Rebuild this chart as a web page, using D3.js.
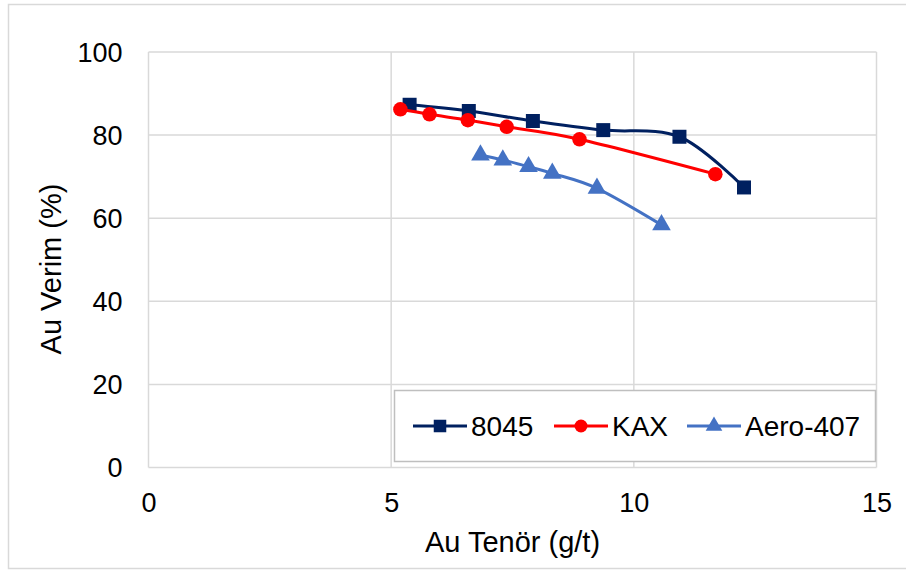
<!DOCTYPE html>
<html>
<head>
<meta charset="utf-8">
<script src="https://cdn.jsdelivr.net/npm/d3@7"></script>
<style>
  html, body { margin: 0; padding: 0; background: #fff; }
  svg text { font-family: "Liberation Sans", Arial, sans-serif; fill: #000; }
</style>
</head>
<body>
<svg id="chart" width="906" height="572"></svg>
<script>
// Au Tenör (g/t) vs Au Verim (%) for three collectors
const seriesNames = ["8045", "KAX", "Aero-407"];
const grade8045 = [5.38, 6.60, 7.92, 9.37, 10.94, 12.27];
const recov8045 = [87.3, 85.8, 83.4, 81.2, 79.6, 67.4];
const gradeKAX = [5.19, 5.79, 6.58, 7.38, 8.88, 11.68];
const recovKAX = [86.2, 85.0, 83.6, 82.0, 79.0, 70.6];
const gradeAero = [6.84, 7.30, 7.83, 8.32, 9.24, 10.57];
const recovAero = [75.2, 74.0, 72.4, 70.8, 67.2, 58.4];
const xTicks = [0, 5, 10, 15];
const yTicks = [0, 20, 40, 60, 80, 100];

const colors = ["#002060", "#FF0000", "#4472C4"];
const shapes = [d3.symbolSquare, d3.symbolCircle, d3.symbolTriangle];
const symSizes = [196, 165, 150];

const series = [
  { name: seriesNames[0], xs: grade8045, ys: recov8045 },
  { name: seriesNames[1], xs: gradeKAX, ys: recovKAX },
  { name: seriesNames[2], xs: gradeAero, ys: recovAero }
];

const svg = d3.select("#chart");
const plotL = 148.5, plotR = 876.5, plotT = 52, plotB = 467.5;

const x = d3.scaleLinear().domain([0, 15]).range([plotL, plotR]);
const y = d3.scaleLinear().domain([0, 100]).range([plotB, plotT]);

// Outer chart frame
svg.append("rect")
  .attr("x", 8.5).attr("y", 4.5)
  .attr("width", 910).attr("height", 564)
  .attr("fill", "#fff").attr("stroke", "#d9d9d9").attr("stroke-width", 1.5);

// Gridlines
const grid = svg.append("g").attr("stroke", "#d9d9d9").attr("stroke-width", 1.5);
yTicks.forEach(t => {
  grid.append("line").attr("x1", plotL).attr("x2", plotR)
    .attr("y1", y(t)).attr("y2", y(t));
});
xTicks.forEach(t => {
  grid.append("line").attr("x1", x(t)).attr("x2", x(t))
    .attr("y1", plotT).attr("y2", plotB);
});

// Axes (labels only; lines are the grid)
const xAxis = svg.append("g").attr("transform", `translate(0,${plotB})`)
  .call(d3.axisBottom(x).tickValues(xTicks).tickSize(0).tickPadding(0));
xAxis.select(".domain").remove();
xAxis.selectAll("text").attr("font-size", 27).attr("dy", null)
  .attr("y", 44.5).attr("font-family", "Liberation Sans, Arial, sans-serif");

const yAxis = svg.append("g").attr("transform", `translate(${plotL},0)`)
  .call(d3.axisLeft(y).tickValues(yTicks).tickSize(0).tickPadding(0));
yAxis.select(".domain").remove();
yAxis.selectAll("text").attr("font-size", 27).attr("x", -26).attr("dy", "0.35em")
  .attr("font-family", "Liberation Sans, Arial, sans-serif");

// Axis titles
svg.append("text").attr("x", (plotL + plotR) / 2).attr("y", 552)
  .attr("text-anchor", "middle").attr("font-size", 29).text("Au Tenör (g/t)");
svg.append("text")
  .attr("transform", `translate(61,269) rotate(-90)`)
  .attr("text-anchor", "middle").attr("font-size", 29).text("Au Verim (%)");

// Smoothed series lines and markers
const line = d3.line()
  .x(d => x(d[0])).y(d => y(d[1]))
  .curve(d3.curveCatmullRom.alpha(0));

series.forEach((s, i) => {
  const pts = s.xs.map((v, j) => [v, s.ys[j]]);
  const g = svg.append("g");
  g.append("path").datum(pts)
    .attr("d", line).attr("fill", "none")
    .attr("stroke", colors[i]).attr("stroke-width", 3)
    .attr("stroke-linejoin", "round");
  g.selectAll("path.m").data(pts).enter().append("path")
    .attr("class", "m")
    .attr("transform", d => `translate(${x(d[0])},${y(d[1])})`)
    .attr("d", d3.symbol().type(shapes[i]).size(symSizes[i]))
    .attr("fill", colors[i]);
});

// Legend
const legend = svg.append("g");
legend.append("rect")
  .attr("x", 394.5).attr("y", 390.5).attr("width", 481).attr("height", 71)
  .attr("fill", "#fff").attr("stroke", "#bfbfbf").attr("stroke-width", 1.5);
const legendX = [413, 554, 687];
series.forEach((s, i) => {
  const lx = legendX[i], ly = 426;
  legend.append("line").attr("x1", lx).attr("x2", lx + 54)
    .attr("y1", ly).attr("y2", ly)
    .attr("stroke", colors[i]).attr("stroke-width", 3);
  legend.append("path")
    .attr("transform", `translate(${lx + 27},${ly})`)
    .attr("d", d3.symbol().type(shapes[i]).size(symSizes[i] * 0.8))
    .attr("fill", colors[i]);
  legend.append("text").attr("x", lx + 58).attr("y", ly + 10)
    .attr("font-size", 28).text(s.name);
});
</script>
</body>
</html>
